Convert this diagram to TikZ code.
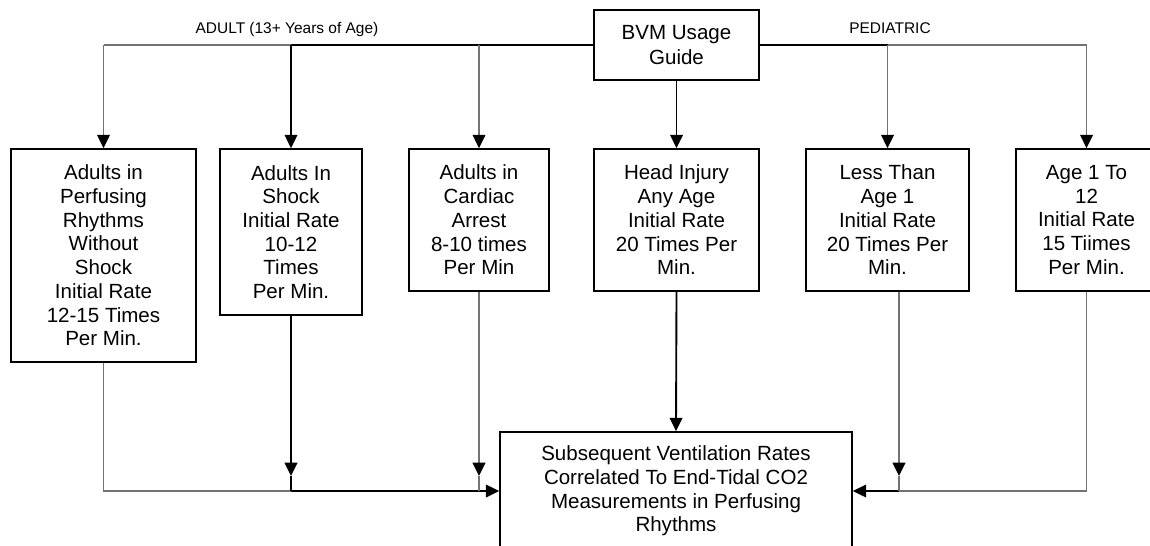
\documentclass[tikz,border=0pt]{standalone}
\usepackage{fontspec}
\setmainfont{Liberation Sans}
\usetikzlibrary{arrows.meta,calc}
\begin{document}
\begin{tikzpicture}[x=0.75pt,y=-0.75pt,
  box/.style={draw, line width=1.3pt, align=center, inner sep=0pt,
    font=\fontsize{15.4pt}{17.8pt}\selectfont},
  lbl/.style={anchor=base, inner sep=0pt, font=\fontsize{11.6pt}{13pt}\selectfont},
  dl/.style={draw=black, line width=1.4pt},
  gl/.style={draw=black!55, line width=1.4pt},
  arr/.style={-{Triangle[length=10pt,width=9.5pt,color=black]}}]
\useasboundingbox (0,0) rectangle (1150,546);

\node[box, minimum width=123.75pt, minimum height=52.5pt,
  font=\fontsize{15.4pt}{18.75pt}\selectfont] (bvm) at (676.5,45) {BVM Usage\\Guide};

\node[box, minimum width=138.75pt, minimum height=159.75pt] (b1) at (103.5,255.5)
  {Adults in\\Perfusing\\Rhythms\\Without\\Shock\\Initial Rate\\12-15 Times\\Per Min.};
\node[box, minimum width=106.5pt, minimum height=124.5pt] (b2) at (291,232)
  {Adults In\\Shock\\Initial Rate\\10-12\\Times\\Per Min.};
\node[box, minimum width=105pt, minimum height=106.5pt] (b3) at (479,220)
  {Adults in\\Cardiac\\Arrest\\8-10 times\\Per Min};
\node[box, minimum width=123.75pt, minimum height=106.5pt] (b4) at (676.5,220)
  {Head Injury\\Any Age\\Initial Rate\\20 Times Per\\Min.};
\node[box, minimum width=122.25pt, minimum height=106.5pt] (b5) at (887.5,220)
  {Less Than\\Age 1\\Initial Rate\\20 Times Per\\Min.};
\node[box, minimum width=105.75pt, minimum height=106.5pt] (b6) at (1086.5,220)
  {Age 1 To\\12\\Initial Rate\\15 Tiimes\\Per Min.};

\node[box, minimum width=264pt, minimum height=88.5pt] (out) at (676,491)
  {Subsequent Ventilation Rates\\Correlated To End-Tidal CO2\\Measurements in Perfusing\\Rhythms};

\node[lbl] (adult) at (287,33) {ADULT (13+ Years of Age)};
\node[lbl] (ped) at (890,33) {PEDIATRIC};

% top distribution lines
\draw[gl] (bvm.west -| b2.north) -- (bvm.west -| b1.north);
\draw[dl] (bvm.west) -- (bvm.west -| b2.north);
\draw[dl] (bvm.east) -- (bvm.east -| b5.north);
\draw[gl] (bvm.east -| b5.north) -- (bvm.east -| b6.north);

\draw[gl,arr] (bvm.west -| b1.north) -- (b1.north);
\draw[dl,arr] (bvm.west -| b2.north) -- (b2.north);
\draw[gl,arr] (bvm.west -| b3.north) -- (b3.north);
\draw[dl,arr] (bvm.south) -- (b4.north);
\draw[gl,arr] (bvm.east -| b5.north) -- (b5.north);
\draw[gl,arr] (bvm.east -| b6.north) -- (b6.north);

% bottom collection lines
\coordinate (b5o) at ($(b5.south)+(11.5,0)$);
\coordinate (t2) at ($(b2.south |- out.west)+(0,-15)$);
\coordinate (t3) at ($(b3.south |- out.west)+(0,-15)$);
\coordinate (t5) at ($(b5o |- out.east)+(0,-15)$);

\draw[gl] (b1.south) -- (b1.south |- out.west) -- (out.west -| b2.south);
\draw[dl,arr] (out.west -| b2.south) -- (out.west);
\draw[dl,arr] (b2.south) -- (t2);
\draw[dl] (t2) -- (b2.south |- out.west);
\draw[gl,arr] (b3.south) -- (t3);
\draw[gl] (t3) -- (b3.south |- out.west);
\draw[dl,arr] (b4.south) -- (out.north);

\draw[gl] (b6.south) -- (b6.south |- out.east) -- (b5o |- out.east);
\draw[dl,arr] (b5o |- out.east) -- (out.east);
\draw[gl,arr] (b5o) -- (t5);
\draw[gl] (t5) -- (b5o |- out.east);
\end{tikzpicture}
\end{document}
